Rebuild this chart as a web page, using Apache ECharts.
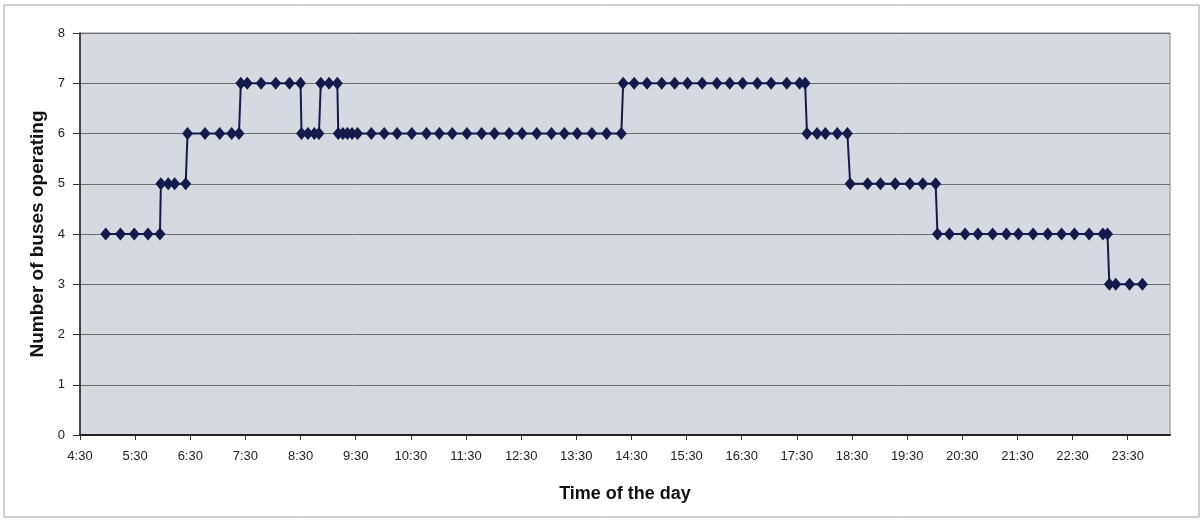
<!DOCTYPE html>
<html>
<head>
<meta charset="utf-8">
<script src="https://cdn.jsdelivr.net/npm/echarts@6/dist/echarts.min.js"></script>
<style>
  html, body { margin: 0; padding: 0; background: #ffffff; }
  #chart { width: 1204px; height: 525px; }
</style>
</head>
<body>
<div id="chart"></div>
<script>
// Departure times (H:MM) and the number of buses operating after each one
const departureTimes = [
  '4:58', '5:14', '5:29', '5:44', '5:57',
  '5:58', '6:06', '6:13', '6:25',
  '6:27', '6:46', '7:02', '7:15', '7:23',
  '7:25', '7:32', '7:47', '8:03', '8:18', '8:30',
  '8:31', '8:38', '8:45', '8:50',
  '8:52', '9:01', '9:10',
  '9:11', '9:16', '9:21', '9:26', '9:32', '9:47', '10:01', '10:15', '10:31', '10:47',
  '11:01', '11:15', '11:31', '11:47', '12:01', '12:17', '12:31', '12:47', '13:03',
  '13:17', '13:31', '13:47', '14:03', '14:19',
  '14:21', '14:33', '14:47', '15:03', '15:17', '15:31', '15:47', '16:03', '16:17',
  '16:31', '16:47', '17:02', '17:19', '17:33', '17:39',
  '17:41', '17:52', '18:01', '18:14', '18:25',
  '18:28', '18:47', '19:01', '19:17', '19:33', '19:47', '20:01',
  '20:03', '20:16', '20:33', '20:47', '21:03', '21:18', '21:31', '21:47', '22:03',
  '22:18', '22:32', '22:48', '23:03', '23:08',
  '23:10', '23:17', '23:32', '23:46'
];
const busesOperating = [
  4, 4, 4, 4, 4,
  5, 5, 5, 5,
  6, 6, 6, 6, 6,
  7, 7, 7, 7, 7, 7,
  6, 6, 6, 6,
  7, 7, 7,
  6, 6, 6, 6, 6, 6, 6, 6, 6, 6,
  6, 6, 6, 6, 6, 6, 6, 6, 6,
  6, 6, 6, 6, 6,
  7, 7, 7, 7, 7, 7, 7, 7, 7,
  7, 7, 7, 7, 7, 7,
  6, 6, 6, 6, 6,
  5, 5, 5, 5, 5, 5, 5,
  4, 4, 4, 4, 4, 4, 4, 4, 4,
  4, 4, 4, 4, 4,
  3, 3, 3, 3
];
const yTicks = [0, 1, 2, 3, 4, 5, 6, 7, 8];

// The time axis runs in minutes counted from 4:30
const AXIS_START = 4 * 60 + 30;
const AXIS_SPAN = 1186;

function toMinutes(s) {
  const p = s.split(':');
  return parseInt(p[0], 10) * 60 + parseInt(p[1], 10);
}
function fmtTime(m) {
  const h = Math.floor(m / 60);
  const mm = m % 60;
  return h + ':' + (mm < 10 ? '0' : '') + mm;
}

const points = departureTimes.map((t, i) => [toMinutes(t) - AXIS_START, busesOperating[i]]);

const chart = echarts.init(document.getElementById('chart'), null, { renderer: 'canvas' });

const option = {
  backgroundColor: '#ffffff',
  animation: false,
  graphic: [{
    type: 'rect',
    shape: { x: 4, y: 5, width: 1195, height: 512 },
    style: { fill: 'none', stroke: '#a0a0a0', lineWidth: 1 },
    silent: true, z: -1
  }],
  grid: {
    left: 80, right: 34, top: 33, bottom: 90,
    show: true,
    backgroundColor: '#d6d9e0',
    borderColor: '#8a8a8a',
    borderWidth: 1
  },
  xAxis: {
    type: 'value',
    min: 0,
    max: AXIS_SPAN,
    interval: 60,
    name: 'Time of the day',
    nameLocation: 'middle',
    nameGap: 50,
    nameTextStyle: { fontFamily: 'Liberation Sans', fontSize: 18, fontWeight: 'bold', color: '#111' },
    axisLine: { show: true, onZero: false, lineStyle: { color: '#222', width: 2 } },
    axisTick: { show: true, length: 5, lineStyle: { color: '#333' } },
    splitLine: { show: false },
    axisLabel: {
      fontFamily: 'Liberation Sans', fontSize: 13, color: '#222', margin: 15,
      showMaxLabel: false,
      formatter: function (v) {
        return v % 60 === 0 ? fmtTime(v + AXIS_START) : '';
      }
    }
  },
  yAxis: {
    type: 'value',
    min: yTicks[0],
    max: yTicks[yTicks.length - 1],
    interval: 1,
    name: 'Number of buses operating',
    nameLocation: 'middle',
    nameGap: 28,
    nameTextStyle: { fontFamily: 'Liberation Sans', fontSize: 19, fontWeight: 'bold', color: '#111' },
    axisLine: { show: true, lineStyle: { color: '#222', width: 1.5 } },
    axisTick: { show: true, length: 7, lineStyle: { color: '#333' } },
    axisLabel: { fontFamily: 'Liberation Sans', fontSize: 13, color: '#222', margin: 15 },
    splitLine: { show: true, lineStyle: { color: '#6e6e6e', width: 1 } }
  },
  series: [{
    type: 'line',
    data: points,
    symbol: 'diamond',
    symbolSize: [11, 13],
    showAllSymbol: true,
    itemStyle: { color: '#141a4c' },
    lineStyle: { color: '#141a4c', width: 2 },
    emphasis: { disabled: true }
  }]
};

chart.setOption(option);
</script>
</body>
</html>
